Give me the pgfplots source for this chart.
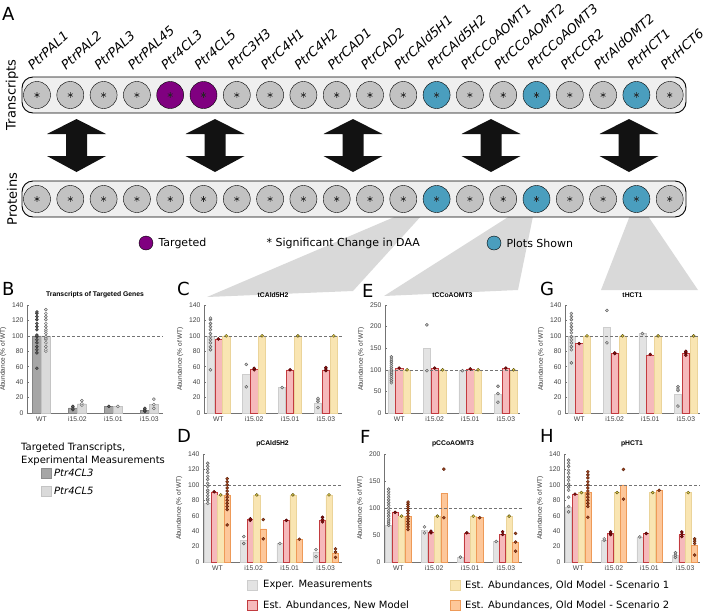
\documentclass[border=0pt]{standalone}
\usepackage{pgfplots}
\pgfplotsset{compat=1.18}
\usepackage{fontspec}
\setmainfont{DejaVu Sans}
\newfontfamily\arial{Liberation Sans}
\definecolor{circgray}{HTML}{C2C2C2}
\definecolor{boxfill}{HTML}{EFEFEF}
\definecolor{purp}{HTML}{800080}
\definecolor{tealc}{HTML}{4A9EBE}
\definecolor{trigray}{HTML}{D9D9D9}
\definecolor{expfill}{HTML}{E3E3E3}
\definecolor{expdraw}{HTML}{CDCDCD}
\definecolor{newfill}{HTML}{F6B9BB}
\definecolor{newdraw}{HTML}{C23B3F}
\definecolor{sonefill}{HTML}{F9E5B2}
\definecolor{sonedraw}{HTML}{EBD49A}
\definecolor{stwofill}{HTML}{FDC79A}
\definecolor{stwodraw}{HTML}{EE9A58}
\definecolor{expdot}{HTML}{CFCFCF}
\definecolor{expdotd}{HTML}{5C5C5C}
\definecolor{newdot}{HTML}{8C1010}
\definecolor{newdotd}{HTML}{4A0000}
\definecolor{sonedot}{HTML}{E2CE50}
\definecolor{sonedotd}{HTML}{5A5010}
\definecolor{stwodot}{HTML}{A5451F}
\definecolor{stwodotd}{HTML}{5A2008}
\definecolor{clthree}{HTML}{A6A6A6}
\definecolor{clfive}{HTML}{DADADA}
\pgfplotsset{
  pan/.style={scale only axis, anchor=south west, height=108pt, width=136pt,
    xmin=-0.4, xmax=3.42, ymin=0,
    axis lines=left, axis line style={-, draw=black!55, line width=0.5pt},
    xtick={0,1,2,3}, xticklabels={WT,i15.02,i15.01,i15.03},
    tick align=inside, major tick length=2pt, tick style={draw=black!55, line width=0.5pt},
    tick label style={font=\arial\fontsize{6.8}{8}\selectfont, text=black!75},
    /pgf/number format/assume math mode=true,
    ylabel={Abundance (\% of WT)},
    ylabel style={font=\arial\fontsize{6.5}{8}\selectfont, text=black!80, yshift=-1pt},
    title style={font=\arial\bfseries\fontsize{6.8}{8}\selectfont, yshift=-2pt},
    clip=false},
  br/.style 2 args={ybar, bar shift=0pt, bar width=#1, fill=#2fill, draw=#2draw, line width=0.5pt},
  dt/.style 2 args={only marks, mark=*, mark size=1.5pt, mark options={fill=#1, draw=#2, line width=0.45pt}},
  hund/.style={dash pattern=on 3pt off 2pt, draw=black!55, line width=0.5pt},
}
\begin{document}
\begin{tikzpicture}
\useasboundingbox (0,0) rectangle (716pt,-613pt);
% ---------------- Panel A ----------------
\begin{axis}[at={(0pt,0pt)}, anchor=north west, scale only axis, width=716pt, height=290pt,
  xmin=0, xmax=716, ymin=0, ymax=290, y dir=reverse, hide axis, clip=false]
% triangles to panels
\addplot[fill=trigray, draw=none] coordinates {(436.6,199) (207,297) (353,291)};
\addplot[fill=trigray, draw=none] coordinates {(536.5,199) (384,296) (518,290)};
\addplot[fill=trigray, draw=none] coordinates {(636.4,199) (601,290) (698,290)};
% boxes
\draw[fill=boxfill, draw=black, line width=0.9pt, rounded corners=11pt] (axis cs:22,77) rectangle (axis cs:686,113);
\draw[fill=boxfill, draw=black, line width=0.9pt, rounded corners=11pt] (axis cs:22,181) rectangle (axis cs:686,217);
% arrows
\addplot[fill=black!93, draw=none] coordinates {(76.5,119) (106,134) (87,134) (87,156) (106,156) (76.5,172) (47,156) (66,156) (66,134) (47,134)};
\addplot[fill=black!93, draw=none] coordinates {(215,119) (244.5,134) (225.5,134) (225.5,156) (244.5,156) (215,172) (185.5,156) (204.5,156) (204.5,134) (185.5,134)};
\addplot[fill=black!93, draw=none] coordinates {(353,119) (382.5,134) (363.5,134) (363.5,156) (382.5,156) (353,172) (323.5,156) (342.5,156) (342.5,134) (323.5,134)};
\addplot[fill=black!93, draw=none] coordinates {(491,119) (520.5,134) (501.5,134) (501.5,156) (520.5,156) (491,172) (461.5,156) (480.5,156) (480.5,134) (461.5,134)};
\addplot[fill=black!93, draw=none] coordinates {(629,119) (658.5,134) (639.5,134) (639.5,156) (658.5,156) (629,172) (599.5,156) (618.5,156) (618.5,134) (599.5,134)};
% transcripts circles
\addplot[only marks, mark=*, mark size=13.5pt, mark options={fill=circgray, draw=none}] coordinates {
(37,95) (70.3,95) (103.6,95) (136.9,95) (236.8,95) (270.1,95) (303.4,95) (336.7,95) (370,95) (403.3,95) (469.9,95) (503.2,95) (569.8,95) (603.1,95) (669.7,95)};
\addplot[only marks, mark=*, mark size=13.5pt, mark options={fill=purp, draw=none}] coordinates {(170.2,95) (203.5,95)};
\addplot[only marks, mark=*, mark size=13.5pt, mark options={fill=tealc, draw=none}] coordinates {(436.6,95) (536.5,95) (636.4,95)};
% proteins circles
\addplot[only marks, mark=*, mark size=13.5pt, mark options={fill=circgray, draw=none}] coordinates {
(37,199) (70.3,199) (103.6,199) (136.9,199) (170.2,199) (203.5,199) (236.8,199) (270.1,199) (303.4,199) (336.7,199) (370,199) (403.3,199) (469.9,199) (503.2,199) (569.8,199) (603.1,199) (669.7,199)};
\addplot[only marks, mark=*, mark size=13.5pt, mark options={fill=tealc, draw=none}] coordinates {(436.6,199) (536.5,199) (636.4,199)};
% asterisks
\addplot[only marks, mark=asterisk, mark size=2.8pt, mark options={draw=black!85, line width=0.6pt}] coordinates {
(37,95) (70.3,95) (103.6,95) (136.9,95) (170.2,95) (203.5,95) (236.8,95) (270.1,95) (303.4,95) (336.7,95) (370,95) (403.3,95) (436.6,95) (469.9,95) (503.2,95) (536.5,95) (569.8,95) (603.1,95) (636.4,95) (669.7,95)
(37,199) (70.3,199) (103.6,199) (136.9,199) (170.2,199) (203.5,199) (236.8,199) (270.1,199) (303.4,199) (336.7,199) (370,199) (403.3,199) (436.6,199) (469.9,199) (503.2,199) (536.5,199) (569.8,199) (603.1,199) (636.4,199) (669.7,199)};
% legend row
\addplot[only marks, mark=*, mark size=7pt, mark options={fill=purp, draw=none}] coordinates {(146,243)};
\addplot[only marks, mark=*, mark size=7pt, mark options={fill=tealc, draw=none}] coordinates {(494,243)};
\node[anchor=west, font=\fontsize{11}{12}\selectfont] at (axis cs:155,243) {Targeted};
\node[anchor=west, font=\fontsize{11}{12}\selectfont] at (axis cs:263,243) {*\ Significant Change in DAA};
\node[anchor=west, font=\fontsize{11}{12}\selectfont] at (axis cs:503,243) {Plots Shown};
% row labels
\node[rotate=90, font=\fontsize{13}{14}\selectfont] at (axis cs:12,95) {Transcripts};
\node[rotate=90, font=\fontsize{13}{14}\selectfont] at (axis cs:12,199) {Proteins};
% gene names
\begin{scope}[every node/.style={rotate=42, anchor=base west, font=\itshape\fontsize{12.8}{13}\selectfont, inner sep=1pt}]
\node at (axis cs:32,71) {PtrPAL1};
\node at (axis cs:65.3,71) {PtrPAL2};
\node at (axis cs:98.6,71) {PtrPAL3};
\node at (axis cs:131.9,71) {PtrPAL45};
\node at (axis cs:165.2,71) {Ptr4CL3};
\node at (axis cs:198.5,71) {Ptr4CL5};
\node at (axis cs:231.8,71) {PtrC3H3};
\node at (axis cs:265.1,71) {PtrC4H1};
\node at (axis cs:298.4,71) {PtrC4H2};
\node at (axis cs:331.7,71) {PtrCAD1};
\node at (axis cs:365,71) {PtrCAD2};
\node at (axis cs:398.3,71) {PtrCAld5H1};
\node at (axis cs:431.6,71) {PtrCAld5H2};
\node at (axis cs:464.9,71) {PtrCCoAOMT1};
\node at (axis cs:498.2,71) {PtrCCoAOMT2};
\node at (axis cs:531.5,71) {PtrCCoAOMT3};
\node at (axis cs:564.8,71) {PtrCCR2};
\node at (axis cs:598.1,71) {PtrAldOMT2};
\node at (axis cs:631.4,71) {PtrHCT1};
\node at (axis cs:664.7,71) {PtrHCT6};
\end{scope}
\end{axis}
% ---------------- Panel letters ----------------
\begin{scope}[every node/.style={anchor=base west, font=\fontsize{18}{18}\selectfont, inner sep=0pt}]
\node at (2pt,-20pt) {A};
\node at (2pt,-295pt) {B};
\node at (177pt,-295pt) {C};
\node at (177pt,-442pt) {D};
\node at (362pt,-297pt) {E};
\node at (360pt,-443pt) {F};
\node at (540pt,-295pt) {G};
\node at (540pt,-442pt) {H};
\end{scope}
% ---------------- Panel B ----------------
\begin{axis}[pan, at={(27pt,-413pt)}, xmin=-0.4, xmax=3.38, ymax=140, ytick={0,20,...,140},
  title={Transcripts of Targeted Genes}]
\addplot[ybar, bar shift=0pt, bar width=0.24, fill=clthree, draw=clthree!80!black, line width=0.4pt] coordinates {(-0.125,100) (0.875,6.5) (1.875,8.6) (2.875,3.5)};
\addplot[ybar, bar shift=0pt, bar width=0.24, fill=clfive, draw=clfive!90!black, line width=0.4pt] coordinates {(0.125,100) (1.125,12) (2.125,8.6) (3.125,11)};
\addplot[hund] coordinates {(-0.4,100) (3.38,100)};
\addplot[dt={black!62}{black!80}] coordinates {(-0.125,58) (-0.125,78) (-0.125,82) (-0.125,86) (-0.125,91) (-0.125,95) (-0.125,99) (-0.125,101) (-0.125,108) (-0.125,112) (-0.125,116) (-0.125,121) (-0.125,125) (-0.125,129) (-0.125,131) (0.875,4.3) (0.875,6.5) (0.875,8.6) (1.875,8.6) (2.875,2) (2.875,3) (2.875,4) (2.875,6)};
\addplot[dt={black!7}{black!60}] coordinates {(0.125,80) (0.125,82) (0.125,86) (0.125,91) (0.125,95) (0.125,97) (0.125,99) (0.125,103) (0.125,106) (0.125,108) (0.125,112) (0.125,116) (0.125,121) (0.125,125) (0.125,129) (0.125,134) (1.125,10) (1.125,12) (1.125,16) (2.125,8.6) (3.125,6) (3.125,11) (3.125,18)};
\end{axis}
% ---------------- Panel C ----------------
\begin{axis}[pan, at={(204pt,-413pt)}, width=138pt, xmax=3.45, ymax=140, ytick={0,20,...,140}, title={tCAld5H2}]
\addplot[br={0.2}{exp}] coordinates {(-0.22,100) (0.78,50) (1.78,33) (2.78,13)};
\addplot[br={0.2}{new}] coordinates {(0,96) (1,57) (2,56) (3,56)};
\addplot[br={0.2}{sone}] coordinates {(0.22,100) (1.22,100) (2.22,100) (3.22,100)};
\addplot[hund] coordinates {(-0.4,100) (3.45,100)};
\addplot[dt={expdot}{expdotd}] coordinates {(-0.22,56) (-0.22,82) (-0.22,86) (-0.22,91) (-0.22,95) (-0.22,99) (-0.22,103) (-0.22,108) (-0.22,112) (-0.22,116) (-0.22,121) (-0.22,123) (0.78,34) (0.78,63) (1.78,33) (2.78,7) (2.78,15) (2.78,17) (2.78,19)};
\addplot[dt={newdot}{newdotd}] coordinates {(0,96) (1,56) (1,58) (2,56) (3,55) (3,57) (3,59)};
\addplot[dt={sonedot}{sonedotd}] coordinates {(0.22,100) (1.22,100) (2.22,100) (3.22,100)};
\end{axis}
% ---------------- Panel E ----------------
\begin{axis}[pan, at={(385pt,-413pt)}, width=135pt, xmax=3.4, ymax=250, ytick={0,50,...,250}, title={tCCoAOMT3}]
\addplot[br={0.2}{exp}] coordinates {(-0.22,100) (0.78,150) (1.78,98) (2.78,43)};
\addplot[br={0.2}{new}] coordinates {(0,104) (1,104) (2,102) (3,104)};
\addplot[br={0.2}{sone}] coordinates {(0.22,100) (1.22,100) (2.22,100) (3.22,100)};
\addplot[hund] coordinates {(-0.4,100) (3.4,100)};
\addplot[dt={expdot}{expdotd}] coordinates {(-0.22,70) (-0.22,75) (-0.22,80) (-0.22,85) (-0.22,90) (-0.22,95) (-0.22,100) (-0.22,105) (-0.22,110) (-0.22,115) (-0.22,120) (-0.22,125) (-0.22,130) (0.78,98) (0.78,204) (1.78,98) (2.78,25) (2.78,45) (2.78,62)};
\addplot[dt={newdot}{newdotd}] coordinates {(0,104) (1,104) (2,102) (3,104)};
\addplot[dt={sonedot}{sonedotd}] coordinates {(0.22,100) (1.22,100) (2.22,100) (3.22,100)};
\end{axis}
% ---------------- Panel G ----------------
\begin{axis}[pan, at={(565pt,-413pt)}, width=135pt, xmax=3.4, ymax=140, ytick={0,20,...,140}, title={tHCT1}]
\addplot[br={0.2}{exp}] coordinates {(-0.22,100) (0.78,111) (1.78,103) (2.78,24)};
\addplot[br={0.2}{new}] coordinates {(0,90.5) (1,77) (2,75.5) (3,77)};
\addplot[br={0.2}{sone}] coordinates {(0.22,100) (1.22,100) (2.22,100) (3.22,100)};
\addplot[hund] coordinates {(-0.4,100) (3.4,100)};
\addplot[dt={expdot}{expdotd}] coordinates {(-0.22,65) (-0.22,82) (-0.22,86) (-0.22,91) (-0.22,95) (-0.22,99) (-0.22,104) (-0.22,108) (-0.22,112) (-0.22,116) (-0.22,121) (-0.22,125) (-0.22,129) (0.78,91) (0.78,133) (1.78,103) (2.78,9) (2.78,29) (2.78,31) (2.78,34)};
\addplot[dt={newdot}{newdotd}] coordinates {(0,90) (1,77) (1,78) (2,76) (3,75) (3,78) (3,80)};
\addplot[dt={sonedot}{sonedotd}] coordinates {(0.22,100) (1.22,100) (2.22,100) (3.22,100)};
\end{axis}
% ---------------- Panel D ----------------
\begin{axis}[pan, at={(203pt,-562pt)}, width=139pt, xmax=3.45, ymax=140, ytick={0,20,...,140}, title={pCAld5H2}]
\addplot[br={0.17}{exp}] coordinates {(-0.27,76) (0.73,28) (1.73,24) (2.73,13)};
\addplot[br={0.17}{new}] coordinates {(-0.09,91) (0.91,55) (1.91,54) (2.91,54)};
\addplot[br={0.17}{sone}] coordinates {(0.09,87) (1.09,87) (2.09,87) (3.09,87)};
\addplot[br={0.17}{stwo}] coordinates {(0.27,87) (1.27,43) (2.27,29.5) (3.27,11)};
\addplot[hund] coordinates {(-0.4,100) (3.45,100)};
\addplot[dt={expdot}{expdotd}] coordinates {(-0.27,76) (-0.27,80) (-0.27,82) (-0.27,86) (-0.27,90) (-0.27,93) (-0.27,98) (-0.27,102) (-0.27,107) (-0.27,111) (-0.27,116) (-0.27,120) (-0.27,124) (-0.27,128) (0.73,24) (0.73,33) (1.73,24) (2.73,7) (2.73,16)};
\addplot[dt={newdot}{newdotd}] coordinates {(-0.09,91) (0.91,54) (0.91,56) (1.91,54) (2.91,52) (2.91,55) (2.91,58)};
\addplot[dt={sonedot}{sonedotd}] coordinates {(0.09,87) (1.09,87) (2.09,87) (3.09,87)};
\addplot[dt={stwodot}{stwodotd}] coordinates {(0.27,48) (0.27,68) (0.27,72) (0.27,76) (0.27,80) (0.27,84) (0.27,88) (0.27,92) (0.27,96) (0.27,100) (0.27,104) (0.27,108) (1.27,30) (1.27,55) (2.27,29.5) (3.27,6) (3.27,13) (3.27,17)};
\end{axis}
% ---------------- Panel F ----------------
\begin{axis}[pan, at={(384pt,-562pt)}, width=138pt, xmax=3.45, ymax=200, ytick={0,50,...,200}, title={pCCoAOMT3}]
\addplot[br={0.17}{exp}] coordinates {(-0.27,68) (0.73,59) (1.73,9) (2.73,38)};
\addplot[br={0.17}{new}] coordinates {(-0.09,93) (0.91,56) (1.91,54) (2.91,51)};
\addplot[br={0.17}{sone}] coordinates {(0.09,85) (1.09,85) (2.09,85) (3.09,85)};
\addplot[br={0.17}{stwo}] coordinates {(0.27,85) (1.27,127) (2.27,82) (3.27,36)};
\addplot[hund] coordinates {(-0.4,100) (3.45,100)};
\addplot[dt={expdot}{expdotd}] coordinates {(-0.27,68) (-0.27,72) (-0.27,76) (-0.27,80) (-0.27,85) (-0.27,90) (-0.27,95) (-0.27,100) (-0.27,105) (-0.27,110) (-0.27,115) (-0.27,120) (-0.27,125) (-0.27,130) (-0.27,135) (0.73,54) (0.73,65) (1.73,9) (2.73,38)};
\addplot[dt={newdot}{newdotd}] coordinates {(-0.09,92) (0.91,54) (0.91,57) (1.91,54) (2.91,51) (2.91,56)};
\addplot[dt={sonedot}{sonedotd}] coordinates {(0.09,85) (1.09,85) (2.09,85) (3.09,85)};
\addplot[dt={stwodot}{stwodotd}] coordinates {(0.27,60) (0.27,65) (0.27,70) (0.27,75) (0.27,80) (0.27,85) (0.27,90) (0.27,95) (0.27,99) (0.27,103) (0.27,107) (0.27,111) (1.27,82) (1.27,172) (2.27,82) (3.27,20) (3.27,37) (3.27,53)};
\end{axis}
% ---------------- Panel H ----------------
\begin{axis}[pan, at={(564pt,-562pt)}, width=136pt, xmax=3.42, ymax=140, ytick={0,20,...,140}, title={pHCT1}]
\addplot[br={0.17}{exp}] coordinates {(-0.27,71) (0.73,28) (1.73,32.5) (2.73,9)};
\addplot[br={0.17}{new}] coordinates {(-0.09,88) (0.91,37) (1.91,37) (2.91,35.5)};
\addplot[br={0.17}{sone}] coordinates {(0.09,90) (1.09,90) (2.09,90) (3.09,90)};
\addplot[br={0.17}{stwo}] coordinates {(0.27,90) (1.27,100) (2.27,93) (3.27,21.5)};
\addplot[hund] coordinates {(-0.4,100) (3.42,100)};
\addplot[dt={expdot}{expdotd}] coordinates {(-0.27,65) (-0.27,72) (-0.27,84) (-0.27,93) (-0.27,97) (-0.27,101) (-0.27,106) (-0.27,110) (-0.27,115) (-0.27,119) (-0.27,124) (-0.27,128) (-0.27,132) (0.73,28) (0.73,30) (1.73,32.5) (2.73,6) (2.73,9) (2.73,12)};
\addplot[dt={newdot}{newdotd}] coordinates {(-0.09,88) (0.91,35.5) (0.91,37) (0.91,39) (1.91,37) (2.91,33) (2.91,36) (2.91,39)};
\addplot[dt={sonedot}{sonedotd}] coordinates {(0.09,90) (1.09,90) (2.09,90) (3.09,90)};
\addplot[dt={stwodot}{stwodotd}] coordinates {(0.27,58) (0.27,72) (0.27,76) (0.27,80) (0.27,84) (0.27,88) (0.27,92) (0.27,96) (0.27,100) (0.27,104) (0.27,109) (0.27,113) (0.27,117) (1.27,81.5) (1.27,120) (2.27,93) (3.27,9) (3.27,24) (3.27,27) (3.27,30)};
\end{axis}
% ---------------- B legend ----------------
\node[anchor=base west, font=\fontsize{10}{11}\selectfont, inner sep=0pt] at (21pt,-450pt) {Targeted Transcripts,};
\node[anchor=base west, font=\fontsize{10}{11}\selectfont, inner sep=0pt] at (21pt,-463pt) {Experimental Measurements};
\fill[clthree, draw=clthree!85!black, line width=0.4pt] (41pt,-468pt) rectangle (51pt,-478pt);
\fill[clfive, draw=clfive!90!black, line width=0.4pt] (41pt,-486pt) rectangle (51pt,-496pt);
\node[anchor=west, font=\itshape\fontsize{10}{11}\selectfont, inner sep=0pt] at (54pt,-473pt) {Ptr4CL3};
\node[anchor=west, font=\itshape\fontsize{10}{11}\selectfont, inner sep=0pt] at (54pt,-491pt) {Ptr4CL5};
% ---------------- bottom legend ----------------
\fill[expfill, draw=expdraw, line width=0.5pt] (247pt,-580pt) rectangle (257pt,-590pt);
\fill[newfill, draw=newdraw, line width=0.5pt] (247pt,-600pt) rectangle (257pt,-610pt);
\fill[sonefill, draw=sonedraw, line width=0.5pt] (450pt,-580pt) rectangle (460pt,-590pt);
\fill[stwofill, draw=stwodraw, line width=0.5pt] (450pt,-600pt) rectangle (460pt,-610pt);
\begin{scope}[every node/.style={anchor=west, font=\fontsize{10}{11}\selectfont, inner sep=0pt}]
\node at (263pt,-585pt) {Exper. Measurements};
\node at (263pt,-605pt) {Est. Abundances, New Model};
\node at (465pt,-585pt) {Est. Abundances, Old Model - Scenario 1};
\node at (465pt,-605pt) {Est. Abundances, Old Model - Scenario 2};
\end{scope}
\end{tikzpicture}
\end{document}
